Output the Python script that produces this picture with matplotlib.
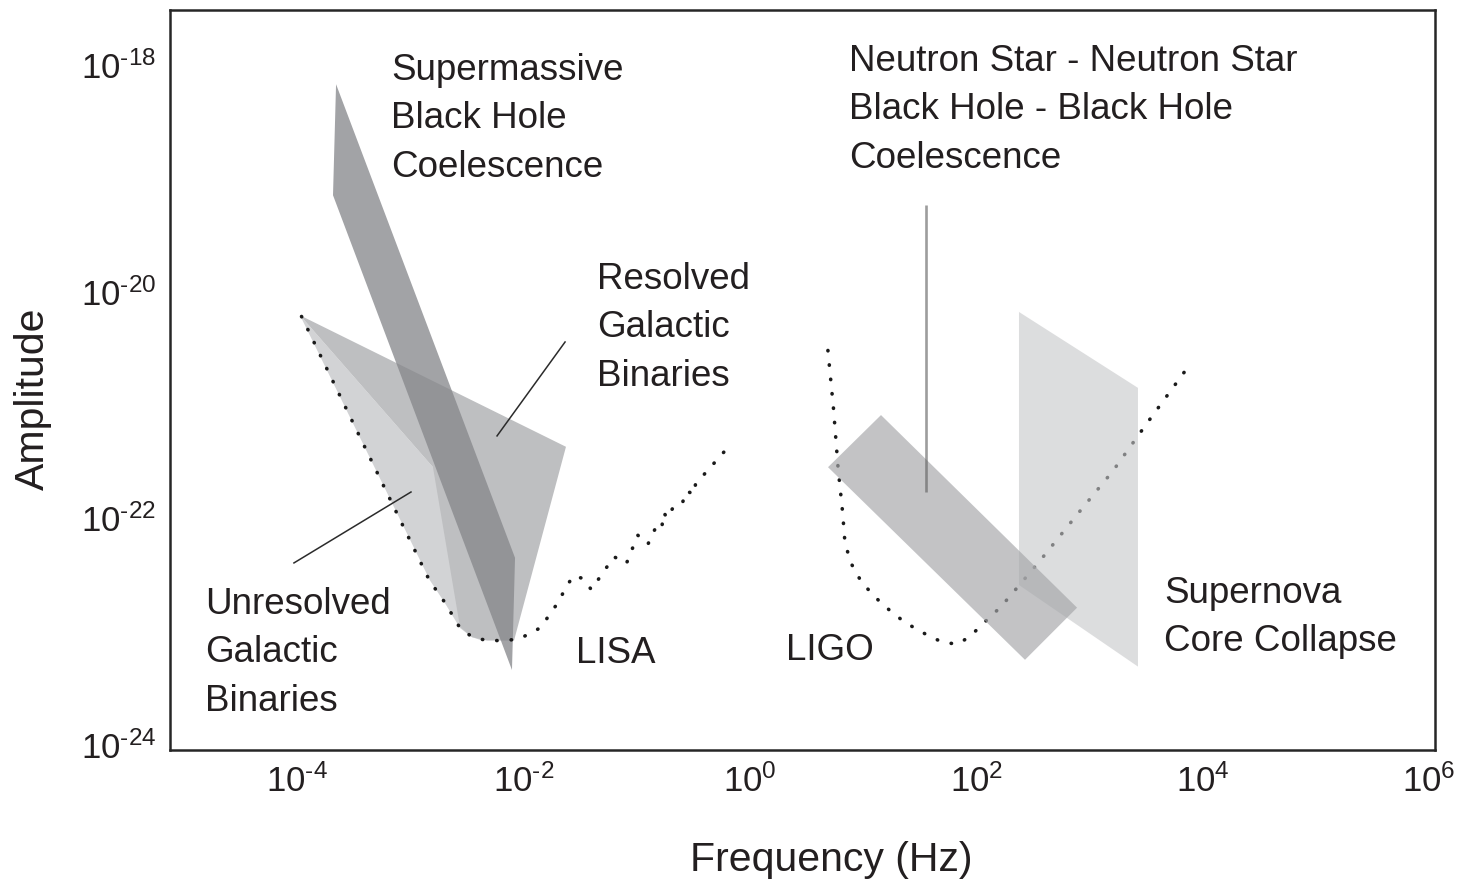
import matplotlib
matplotlib.use("Agg")
import numpy as np
import matplotlib.pyplot as plt
from matplotlib.ticker import NullLocator

plt.rcParams['font.family'] = ['Liberation Sans', 'DejaVu Sans']
plt.rcParams['mathtext.fontset'] = 'custom'
plt.rcParams['mathtext.rm'] = 'Liberation Sans'
plt.rcParams['mathtext.it'] = 'Liberation Sans:italic'
plt.rcParams['mathtext.bf'] = 'Liberation Sans:bold'

# ---- data: log10 frequency [Hz] and log10 strain amplitude ----
# detector sensitivity curves
lisa_logf = [-3.96, -2.83, -2.69, -2.56, -2.45, -2.32, -2.19, -2.06, -1.94, -1.84,
             -1.77, -1.69, -1.63, -1.56, -1.48, -1.40, -1.20, -1.09, -0.99, -0.90,
             -0.83, -0.78, -0.76, -0.73, -0.68, -0.60, -0.56, -0.49, -0.48, -0.17]
lisa_logh = [-20.22, -22.55, -22.75, -22.97, -23.05, -23.08, -23.08, -23.07, -23.02, -22.96,
             -22.85, -22.74, -22.62, -22.51, -22.53, -22.63, -22.34, -22.40, -22.15, -22.23,
             -22.08, -22.10, -21.95, -22.00, -21.91, -21.88, -21.76, -21.79, -21.70, -21.35]

ligo_logf = [0.69, 0.74, 0.78, 0.82, 0.84, 0.89, 0.99, 1.17, 1.37, 1.60,
             1.72, 1.84, 1.95, 2.04, 2.22, 2.56, 2.89, 3.21, 3.51, 3.89]
ligo_logh = [-20.52, -21.04, -21.56, -21.95, -22.21, -22.39, -22.57, -22.76, -22.92, -23.05,
             -23.10, -23.11, -23.04, -22.95, -22.78, -22.38, -21.97, -21.58, -21.16, -20.64]

# source regions (polygon outlines)
smbh_logf = [-3.655, -2.074, -2.101, -3.682]
smbh_logh = [-18.17, -22.35, -23.34, -19.15]

resolved_logf = [-3.973, -1.624, -2.083, -2.322, -2.454, -2.560, -2.799]
resolved_logh = [-20.21, -21.37, -23.08, -23.08, -23.05, -22.96, -21.55]

unresolved_logf = [-3.973, -2.825, -2.693, -2.560, -2.454, -2.366, -2.472, -2.799]
unresolved_logh = [-20.21, -22.55, -22.75, -22.97, -23.05, -23.08, -21.84, -21.55]

nsns_logf = [0.691, 1.159, 2.891, 2.431]
nsns_logh = [-21.55, -21.09, -22.79, -23.25]

sn_logf = [2.378, 3.429, 3.429, 2.378]
sn_logh = [-20.18, -20.85, -23.31, -22.59]

nsns_marker_logf = [1.557, 1.557]
nsns_marker_logh = [-19.24, -21.77]

x_tick_exp = [-4, -2, 0, 2, 4, 6]
y_tick_exp = [-18, -20, -22, -24]


def pw(a):
    return np.power(10.0, np.asarray(a, dtype=float))


fig = plt.figure(figsize=(14.72, 8.81), dpi=100)
ax = fig.add_axes([170 / 1472, 1 - 750 / 881, 1265 / 1472, 740 / 881])
ax.set_xscale('log')
ax.set_yscale('log')
ax.set_xlim(pw(-5.122), pw(6.053))
ax.set_ylim(pw(-24.046), pw(-17.515))

dot_style = dict(color='#1a1a1a', lw=2.6, linestyle=(0, (0.1, 3.9)),
                 dash_capstyle='round')

# LIGO curve sits beneath the translucent source regions
ax.plot(pw(ligo_logf), pw(ligo_logh), zorder=1, **dot_style)

ax.fill(pw(unresolved_logf), pw(unresolved_logh), color='#d2d3d5', lw=0, zorder=2)
ax.fill(pw(resolved_logf), pw(resolved_logh), color='#bebfc1', lw=0, zorder=3)
ax.fill(pw(smbh_logf), pw(smbh_logh), color='#86878b', alpha=0.77, lw=0, zorder=4)
ax.fill(pw(sn_logf), pw(sn_logh), color='#c6c7c9', alpha=0.6, lw=0, zorder=4)
ax.fill(pw(nsns_logf), pw(nsns_logh), color='#a5a6a9', alpha=0.667, lw=0, zorder=5)

ax.plot(pw(nsns_marker_logf), pw(nsns_marker_logh), color='#5c5c5c', alpha=0.6,
        lw=1.9, solid_capstyle='butt', zorder=6)

# LISA curve drawn over the galactic regions
ax.plot(pw(lisa_logf), pw(lisa_logh), zorder=7, **dot_style)

# leader lines for the galactic binary labels
ax.plot(pw([-1.632, -2.233]), pw([-20.445, -21.274]), color='#2b2b2b', lw=1.1, zorder=8)
ax.plot(pw([-2.993, -4.027]), pw([-21.769, -22.395]), color='#2b2b2b', lw=1.1, zorder=8)

text_color = '#231f20'
step = 0.428


def label_block(x_exp, y_exp, lines, size=26.5):
    for i, s in enumerate(lines):
        ax.text(pw(x_exp), pw(y_exp - i * step), s, ha='left', va='baseline',
                fontsize=size, color=text_color, zorder=9)


label_block(-3.170, -18.132, ['Supermassive', 'Black Hole', 'Coelescence'])
label_block(0.876, -18.053, ['Neutron Star - Neutron Star', 'Black Hole - Black Hole',
                             'Coelescence'])
label_block(-1.350, -19.977, ['Resolved', 'Galactic', 'Binaries'])
label_block(-4.813, -22.845, ['Unresolved', 'Galactic', 'Binaries'])
label_block(-1.535, -23.278, ['LISA'])
label_block(0.320, -23.251, ['LIGO'])
label_block(3.659, -22.748, ['Supernova', 'Core Collapse'])

ax.set_xticks(pw(x_tick_exp))
ax.set_xticklabels([r'$10^{\text{%d}}$' % e for e in x_tick_exp])
ax.set_yticks(pw(y_tick_exp))
ax.set_yticklabels([r'$10^{\text{%d}}$' % e for e in y_tick_exp])
ax.xaxis.set_minor_locator(NullLocator())
ax.yaxis.set_minor_locator(NullLocator())
ax.tick_params(which='both', length=0, labelsize=25, colors=text_color)
ax.tick_params(axis='x', pad=10)
ax.tick_params(axis='y', pad=10)

for sp in ax.spines.values():
    sp.set_linewidth(1.8)
    sp.set_color('#262626')

fig.text(831 / 1472, 1 - 860 / 881, 'Frequency (Hz)', ha='center', va='center',
         fontsize=29.5, color=text_color)
fig.text(33 / 1472, 1 - 399 / 881, 'Amplitude', ha='center', va='center',
         rotation=90, fontsize=29.5, color=text_color)

fig.savefig('out.png', dpi=100)
